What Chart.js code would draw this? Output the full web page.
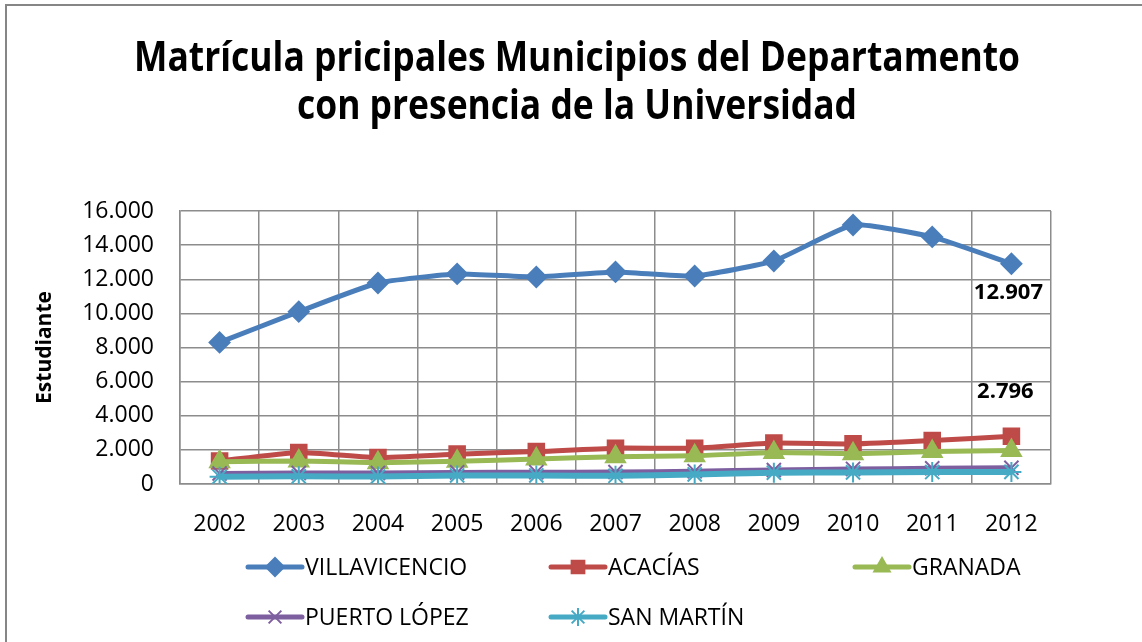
<!DOCTYPE html>
<html>
<head>
<meta charset="utf-8">
<script src="https://cdn.jsdelivr.net/npm/chart.js@4"></script>
<style>
html,body{margin:0;padding:0;background:#fff;}
#wrap{position:relative;width:1142px;height:642px;}
</style>
</head>
<body>
<div id="wrap"><canvas id="c" width="1142" height="642"></canvas></div>
<script>
const categories = ['2002','2003','2004','2005','2006','2007','2008','2009','2010','2011','2012'];
const villavicencio = [8300, 10100, 11780, 12310, 12130, 12430, 12190, 13070, 15180, 14480, 12907];
const acacias = [1350, 1850, 1550, 1750, 1900, 2100, 2100, 2400, 2350, 2550, 2796];
const granada = [1300, 1350, 1250, 1330, 1470, 1600, 1650, 1850, 1780, 1900, 1960];
const puertoLopez = [620, 640, 640, 680, 690, 700, 750, 820, 880, 920, 950];
const sanMartin = [430, 450, 440, 500, 500, 480, 560, 660, 680, 700, 710];
const seriesNames = ['VILLAVICENCIO','ACACÍAS','GRANADA','PUERTO LÓPEZ','SAN MARTÍN'];
const titleLines = ['Matrícula pricipales Municipios del Departamento','con presencia de la Universidad'];
const yTitle = 'Estudiante';
const yMax = 16000, yStep = 2000;

const FONT = "'Open Sans', 'Noto Sans', sans-serif";
function fmt(v){ return String(Math.round(v)).replace(/\B(?=(\d{3})+(?!\d))/g, '.'); }

const styles = [
  {color:'#4A7EBB', style:'rectRot', radius:10, bw:2, lw:5},
  {color:'#BE4B48', style:'rect', radius:11, bw:2, lw:5},
  {color:'#98B954', style:'triangle', radius:11, bw:2, lw:5},
  {color:'#7D5FA0', style:'crossRot', radius:10, bw:2, lw:5},
  {color:'#46AAC5', style:'star', radius:10, bw:2, lw:6}
];
const values = [villavicencio, acacias, granada, puertoLopez, sanMartin];

const datasets = values.map((d,i)=>({
  label: seriesNames[i],
  data: d,
  borderColor: styles[i].color,
  backgroundColor: styles[i].color,
  borderWidth: styles[i].lw,
  pointStyle: styles[i].style,
  pointRadius: styles[i].radius,
  pointHoverRadius: styles[i].radius,
  pointBorderWidth: styles[i].bw,
  pointBorderColor: styles[i].color,
  pointBackgroundColor: styles[i].color,
  tension: 0.15,
  order: 5 - i
}));

const decorPlugin = {
  id: 'decor',
  beforeDraw(chart){
    const ctx = chart.ctx;
    ctx.save();
    ctx.strokeStyle = '#868686';
    ctx.lineWidth = 2;
    ctx.beginPath();
    ctx.moveTo(6, 642); ctx.lineTo(6, 5); ctx.lineTo(1142, 5);
    ctx.stroke();
    // title
    ctx.fillStyle = '#000';
    ctx.textAlign = 'center';
    ctx.textBaseline = 'alphabetic';
    ctx.font = "bold 41px " + FONT;
    ctx.fillText(titleLines[0], 577, 71, 886);
    ctx.fillText(titleLines[1], 577, 119, 560);
    ctx.restore();
  },
  afterDatasetsDraw(chart){
    const ctx = chart.ctx;
    ctx.save();
    ctx.fillStyle = '#000';
    ctx.font = "bold 22px " + FONT;
    ctx.textAlign = 'center';
    ctx.textBaseline = 'middle';
    const last = categories.length - 1;
    const p0 = chart.getDatasetMeta(0).data[last];
    ctx.fillText(fmt(villavicencio[last]), p0.x - 3, p0.y + 29, 72);
    const p1 = chart.getDatasetMeta(1).data[last];
    ctx.fillText(fmt(acacias[last]), p1.x - 6, p1.y - 45, 64);
    // legend
    const pos = [[248,567],[551,567],[855,567],[248,617],[551,617]];
    ctx.textAlign = 'left';
    ctx.font = "23px " + FONT;
    for (let i=0;i<5;i++){
      const [x,y] = pos[i];
      const s = styles[i];
      ctx.strokeStyle = s.color;
      ctx.fillStyle = s.color;
      ctx.lineWidth = 5;
      ctx.lineCap = 'round';
      ctx.beginPath(); ctx.moveTo(x, y); ctx.lineTo(x+54, y); ctx.stroke();
      ctx.lineCap = 'butt';
      ctx.lineWidth = 2;
      Chart.helpers.drawPoint(ctx, {pointStyle: s.style, radius: 9, borderWidth: 2, rotation: 0}, x+27, y);
      ctx.fillStyle = '#000';
      ctx.fillText(seriesNames[i], x+57, y+1);
    }
    ctx.restore();
  }
};

new Chart(document.getElementById('c'), {
  type: 'line',
  data: { labels: categories, datasets },
  options: {
    responsive: false,
    animation: false,
    events: [],
    layout: { padding: { left: 0, right: 91, top: 211, bottom: 98 } },
    plugins: { legend: { display: false }, title: { display: false }, tooltip: { enabled: false } },
    scales: {
      x: {
        offset: true,
        grid: { offset: true, color: '#8c8c8c', lineWidth: 1.5, drawTicks: false },
        border: { color: '#8c8c8c', width: 1.5 },
        ticks: { color: '#000', font: { family: FONT, size: 23 }, padding: 27, maxRotation: 0 },
        afterFit(scale){ scale.height = 60; }
      },
      y: {
        min: 0, max: yMax,
        grid: { color: '#8c8c8c', lineWidth: 1.5, drawTicks: false },
        border: { color: '#8c8c8c', width: 1.5 },
        ticks: { stepSize: yStep, color: '#000', font: { family: FONT, size: 23 }, padding: 26, callback: v => fmt(v) },
        title: { display: true, text: yTitle, color: '#000', font: { family: FONT, size: 21, weight: 'bold' }, padding: { top: 32, bottom: 0 } },
        afterFit(scale){ scale.width = 180; }
      }
    }
  },
  plugins: [decorPlugin]
});
</script>
</body>
</html>
